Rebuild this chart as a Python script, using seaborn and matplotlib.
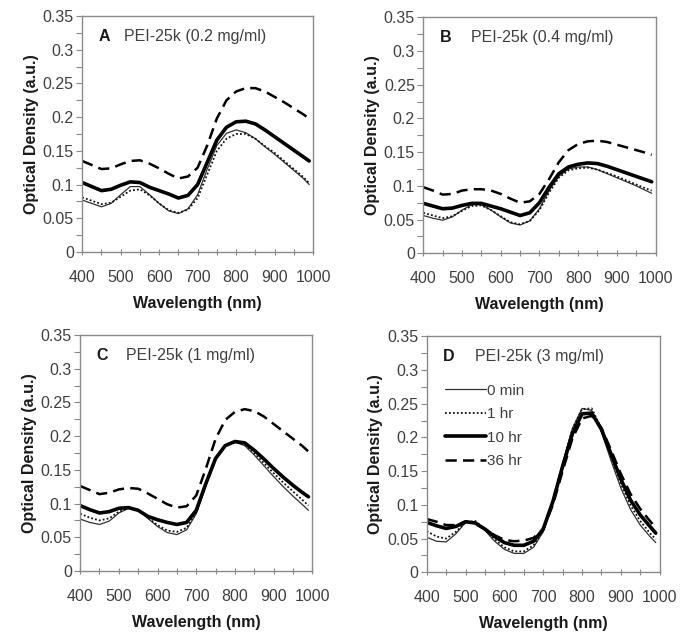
import numpy as np
import pandas as pd
import matplotlib
matplotlib.use('Agg')
import matplotlib.pyplot as plt
from matplotlib.ticker import MultipleLocator, FuncFormatter
import seaborn as sns

# =============================================
# Data (wavelength in nm, optical density in a.u.)

wavelength = [400, 425, 450, 475, 500, 525, 550, 575, 600, 625, 650, 675, 700,
              725, 750, 775, 800, 825, 850, 875, 900, 925, 950, 975, 990]

series_names = ['0 min', '1 hr', '10 hr', '36 hr']

# Panel A: PEI-25k (0.2 mg/ml)
a_0min = [.077, .072, .067, .072, .085, .097, .097, .085, .072, .061, .057, .064, .085,
          .123, .158, .176, .181, .177, .168, .156, .145, .133, .121, .109, .100]
a_1hr = [.081, .076, .071, .073, .082, .091, .093, .084, .072, .062, .058, .063, .080,
         .115, .150, .168, .175, .175, .168, .157, .147, .135, .123, .111, .102]
a_10hr = [.103, .097, .091, .093, .099, .104, .103, .096, .091, .086, .080, .084, .100,
          .133, .166, .185, .193, .194, .190, .181, .171, .161, .151, .141, .135]
a_36hr = [.135, .129, .123, .124, .130, .135, .136, .131, .124, .116, .109, .112, .125,
          .158, .198, .225, .238, .243, .243, .238, .230, .222, .213, .204, .198]

# Panel B: PEI-25k (0.4 mg/ml)
b_0min = [.056, .052, .049, .054, .064, .072, .072, .064, .054, .045, .042, .048, .066,
          .093, .114, .125, .128, .128, .124, .118, .112, .106, .100, .093, .089]
b_1hr = [.060, .056, .052, .055, .063, .070, .071, .064, .055, .046, .043, .048, .064,
         .090, .112, .123, .126, .127, .124, .119, .114, .108, .102, .096, .093]
b_10hr = [.074, .070, .066, .067, .071, .074, .074, .070, .066, .061, .056, .060, .075,
          .098, .118, .128, .132, .134, .133, .129, .124, .119, .114, .109, .106]
b_36hr = [.098, .093, .087, .088, .093, .095, .095, .093, .088, .081, .075, .077, .088,
          .110, .135, .153, .162, .166, .167, .165, .161, .157, .153, .149, .146]

# Panel C: PEI-25k (1 mg/ml)
c_0min = [.077, .072, .069, .074, .086, .093, .091, .078, .066, .057, .054, .061, .085,
          .127, .165, .185, .191, .186, .172, .156, .140, .125, .111, .098, .090]
c_1hr = [.085, .079, .075, .078, .088, .093, .090, .079, .068, .060, .058, .064, .087,
         .128, .166, .186, .191, .188, .175, .160, .145, .131, .118, .105, .097]
c_10hr = [.097, .091, .086, .088, .093, .094, .090, .081, .076, .072, .069, .072, .090,
          .130, .167, .186, .192, .190, .179, .166, .152, .139, .127, .116, .110]
c_36hr = [.126, .120, .114, .116, .121, .123, .122, .115, .107, .099, .094, .096, .112,
          .152, .196, .224, .236, .240, .237, .229, .218, .207, .196, .185, .177]

# Panel D: PEI-25k (3 mg/ml)
d_0min = [.052, .046, .045, .057, .074, .075, .062, .046, .034, .028, .028, .037, .060,
          .105, .162, .213, .243, .240, .208, .165, .125, .093, .070, .053, .044]
d_1hr = [.061, .053, .050, .060, .074, .076, .064, .049, .037, .031, .031, .040, .062,
         .106, .161, .212, .242, .243, .213, .171, .131, .099, .076, .058, .049]
d_10hr = [.074, .069, .065, .068, .075, .073, .064, .053, .044, .040, .040, .046, .064,
          .105, .157, .205, .235, .236, .212, .175, .138, .107, .085, .068, .058]
d_36hr = [.079, .075, .070, .070, .075, .072, .064, .055, .048, .046, .047, .051, .064,
          .100, .150, .198, .228, .232, .214, .181, .146, .116, .094, .076, .066]

panel_letters = ['A', 'B', 'C', 'D']
panel_titles = ['PEI-25k (0.2 mg/ml)', 'PEI-25k (0.4 mg/ml)',
                'PEI-25k (1 mg/ml)', 'PEI-25k (3 mg/ml)']
panel_data = [[a_0min, a_1hr, a_10hr, a_36hr],
              [b_0min, b_1hr, b_10hr, b_36hr],
              [c_0min, c_1hr, c_10hr, c_36hr],
              [d_0min, d_1hr, d_10hr, d_36hr]]

# =============================================
# Style

sns.set_style('white')
plt.rcParams['font.family'] = ['Liberation Sans', 'DejaVu Sans']

line_styles = {
    '0 min': dict(color='#333333', lw=0.9, ls='-'),
    '1 hr': dict(color='#111111', lw=1.3, ls=(0, (1, 1.2))),
    '10 hr': dict(color='black', lw=2.6, ls='-'),
    '36 hr': dict(color='black', lw=1.8, ls=(0, (4.5, 2.5))),
}

spine_color = '#8a8a8a'
text_color = '#404040'

fig = plt.figure(figsize=(6.85, 6.38), dpi=100)

# axes positions [left, bottom, width, height] in figure fractions
positions = [[0.120, 0.605, 0.337, 0.370],
             [0.618, 0.603, 0.339, 0.370],
             [0.117, 0.105, 0.339, 0.370],
             [0.623, 0.103, 0.340, 0.370]]

text_x = [0.18, 0.205, 0.198, 0.206]

for i in range(4):
    ax = fig.add_axes(positions[i])

    for name, vals in zip(series_names, panel_data[i]):
        st = line_styles[name]
        sns.lineplot(x=wavelength, y=vals, ax=ax, color=st['color'],
                     linewidth=st['lw'], linestyle=st['ls'], label=name)

    ax.set_xlim(400, 1000)
    ax.set_ylim(0, 0.35)
    ax.xaxis.set_major_locator(MultipleLocator(100))
    ax.xaxis.set_minor_locator(MultipleLocator(50))
    ax.yaxis.set_major_locator(MultipleLocator(0.05))
    ax.yaxis.set_minor_locator(MultipleLocator(0.025))
    ax.yaxis.set_major_formatter(FuncFormatter(lambda v, p: ('%.3f' % v).rstrip('0').rstrip('.')))

    ax.tick_params(axis='x', which='both', direction='inout', length=4, width=0.8,
                   color=spine_color, labelsize=11.5, labelcolor=text_color, pad=11)
    ax.tick_params(axis='y', which='both', direction='out', length=4, width=0.8,
                   color=spine_color, labelsize=11.5, labelcolor=text_color, pad=2)
    ax.tick_params(bottom=True, left=True, which='both')

    for sp in ax.spines.values():
        sp.set_color(spine_color)
        sp.set_linewidth(1.0)

    ax.set_xlabel('Wavelength (nm)', fontsize=11.5, fontweight='bold', color='#1a1a1a', labelpad=8)
    ax.set_ylabel('Optical Density (a.u.)', fontsize=11.5, fontweight='bold', color='#1a1a1a', labelpad=3)

    ax.text(0.07, 0.915, panel_letters[i], transform=ax.transAxes, fontsize=11.5,
            fontweight='bold', color='#1a1a1a', va='center', ha='left')
    ax.text(text_x[i], 0.915, panel_titles[i], transform=ax.transAxes, fontsize=11.5,
            color=text_color, va='center', ha='left')

    if i == 3:
        leg = ax.legend(loc='upper left', bbox_to_anchor=(0.05, 0.825), frameon=False,
                        fontsize=11, handlelength=2.7, handletextpad=0.1,
                        labelspacing=0.62, borderaxespad=0)
        for t in leg.get_texts():
            t.set_color(text_color)
    else:
        ax.get_legend().remove()

fig.savefig('out.png', dpi=100)
